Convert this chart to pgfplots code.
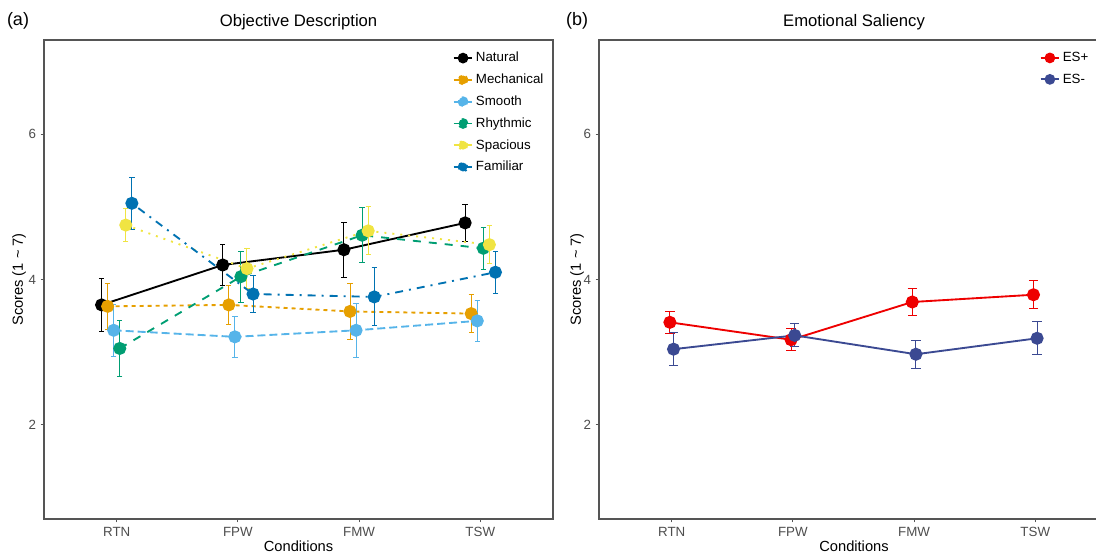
\documentclass[border=0pt]{standalone}
\usepackage{fontspec}
\setmainfont{Liberation Sans}
\usepackage{pgfplots}
\pgfplotsset{compat=1.18}
\usepackage{pgfplotstable}
\definecolor{cNat}{RGB}{0,0,0}
\definecolor{cMech}{HTML}{E69F00}
\definecolor{cSmo}{HTML}{56B4E9}
\definecolor{cRhy}{HTML}{009E73}
\definecolor{cSpa}{HTML}{F0E442}
\definecolor{cFam}{HTML}{0072B2}
\definecolor{cESp}{HTML}{EE0000}
\definecolor{cESm}{HTML}{3B4992}
\definecolor{axgray}{RGB}{85,85,85}
\definecolor{tkgray}{RGB}{77,77,77}

% Panel (a)
\pgfplotstableread{
x y e
0.875 3.65 0.37
1.875 4.20 0.28
2.875 4.41 0.38
3.875 4.78 0.26
}\tNat
\pgfplotstableread{
x y e
0.925 3.63 0.32
1.925 3.65 0.27
2.925 3.56 0.39
3.925 3.53 0.26
}\tMech
\pgfplotstableread{
x y e
0.975 3.30 0.36
1.975 3.21 0.28
2.975 3.30 0.37
3.975 3.43 0.28
}\tSmo
\pgfplotstableread{
x y e
1.025 3.05 0.38
2.025 4.04 0.35
3.025 4.61 0.38
4.025 4.43 0.29
}\tRhy
\pgfplotstableread{
x y e
1.075 4.75 0.23
2.075 4.15 0.28
3.075 4.67 0.33
4.075 4.48 0.26
}\tSpa
\pgfplotstableread{
x y e
1.125 5.05 0.36
2.125 3.80 0.25
3.125 3.76 0.40
4.125 4.10 0.29
}\tFam
% Panel (b)
\pgfplotstableread{
x y e
0.985 3.41 0.15
1.985 3.17 0.15
2.985 3.69 0.18
3.985 3.79 0.19
}\tESp
\pgfplotstableread{
x y e
1.015 3.04 0.23
2.015 3.23 0.16
3.015 2.97 0.19
4.015 3.19 0.23
}\tESm

\pgfplotsset{
  panel/.style={
    anchor=south west, scale only axis,
    width=381.75pt, height=359.25pt,
    xmin=0.4, xmax=4.6, ymin=0.7, ymax=7.3,
    xtick={1,2,3,4}, xticklabels={RTN,FPW,FMW,TSW},
    ytick={2,4,6},
    tick align=outside, tick pos=left,
    major tick length=2.5pt,
    axis line style={draw=axgray, line width=0.8pt},
    every tick/.style={draw=axgray, line width=0.8pt},
    tick label style={font=\fontsize{10}{12}\selectfont, text=tkgray},
    /pgf/number format/assume math mode=true,
    legend cell align=left,
    legend image code/.code={
      \draw[##1, solid, line width=1.4pt] (0pt,0pt) -- (14pt,0pt);
      \fill[##1] (7pt,0pt) circle (3.3pt);
    },
    legend style={at={(1,1)}, anchor=north east, xshift=-3pt, yshift=-5pt,
      draw=none, fill=none, font=\fontsize{10}{12}\selectfont,
      row sep=3.6pt, inner sep=2pt},
  },
  ser/.style={#1, line width=1.4pt, mark=*, mark size=4.2pt,
    mark options={solid, fill=#1, draw=#1},
    error bars/y dir=both, error bars/y explicit,
    error bars/error bar style={solid, line width=0.75pt},
    error bars/error mark options={solid, line width=0.75pt, mark size=2pt, rotate=90}},
  serb/.style={#1, line width=1.4pt, mark=*, mark size=4.2pt,
    mark options={solid, fill=#1, draw=#1},
    error bars/y dir=both, error bars/y explicit,
    error bars/error bar style={solid, line width=0.75pt},
    error bars/error mark options={solid, line width=0.75pt, mark size=3.5pt, rotate=90}},
}

\begin{document}
\begin{tikzpicture}
\useasboundingbox (0,0) rectangle (822pt,415.5pt);
\begin{axis}[panel, at={(33pt,26.25pt)}]
\addplot[ser=cNat, solid] table[x=x, y=y, y error=e]{\tNat};
\addlegendentry{Natural}
\addplot[ser=cMech, dash pattern=on 3pt off 3pt] table[x=x, y=y, y error=e]{\tMech};
\addlegendentry{Mechanical}
\addplot[ser=cSmo, dash pattern=on 6pt off 3pt] table[x=x, y=y, y error=e]{\tSmo};
\addlegendentry{Smooth}
\addplot[ser=cRhy, dash pattern=on 6pt off 6pt] table[x=x, y=y, y error=e]{\tRhy};
\addlegendentry{Rhythmic}
\addplot[ser=cSpa, dash pattern=on 1.5pt off 4.5pt] table[x=x, y=y, y error=e]{\tSpa};
\addlegendentry{Spacious}
\addplot[ser=cFam, dash pattern=on 1.5pt off 4.5pt on 6pt off 4.5pt] table[x=x, y=y, y error=e]{\tFam};
\addlegendentry{Familiar}
\end{axis}
\begin{axis}[panel, at={(449.25pt,26.25pt)}, legend style={xshift=-7.5pt}]
\addplot[serb=cESp, solid] table[x=x, y=y, y error=e]{\tESp};
\addlegendentry{ES+}
\addplot[serb=cESm, solid] table[x=x, y=y, y error=e]{\tESm};
\addlegendentry{ES-}
\end{axis}
% titles and labels
\node[font=\fontsize{12.5}{15}\selectfont] at (223.9pt,399pt) {Objective Description};
\node[font=\fontsize{12.5}{15}\selectfont] at (640.5pt,399pt) {Emotional Saliency};
\node[font=\fontsize{13.5}{16}\selectfont] at (13.5pt,399.5pt) {(a)};
\node[font=\fontsize{13.5}{16}\selectfont] at (432.75pt,399.5pt) {(b)};
\node[font=\fontsize{11}{13}\selectfont, rotate=90] at (14.25pt,205.9pt) {Scores (1 \textasciitilde\ 7)};
\node[font=\fontsize{11}{13}\selectfont, rotate=90] at (432.75pt,205.9pt) {Scores (1 \textasciitilde\ 7)};
\node[font=\fontsize{11}{13}\selectfont, anchor=base, inner sep=0pt] at (223.9pt,2.2pt) {Conditions};
\node[font=\fontsize{11}{13}\selectfont, anchor=base, inner sep=0pt] at (640.5pt,2.2pt) {Conditions};
\end{tikzpicture}
\end{document}
